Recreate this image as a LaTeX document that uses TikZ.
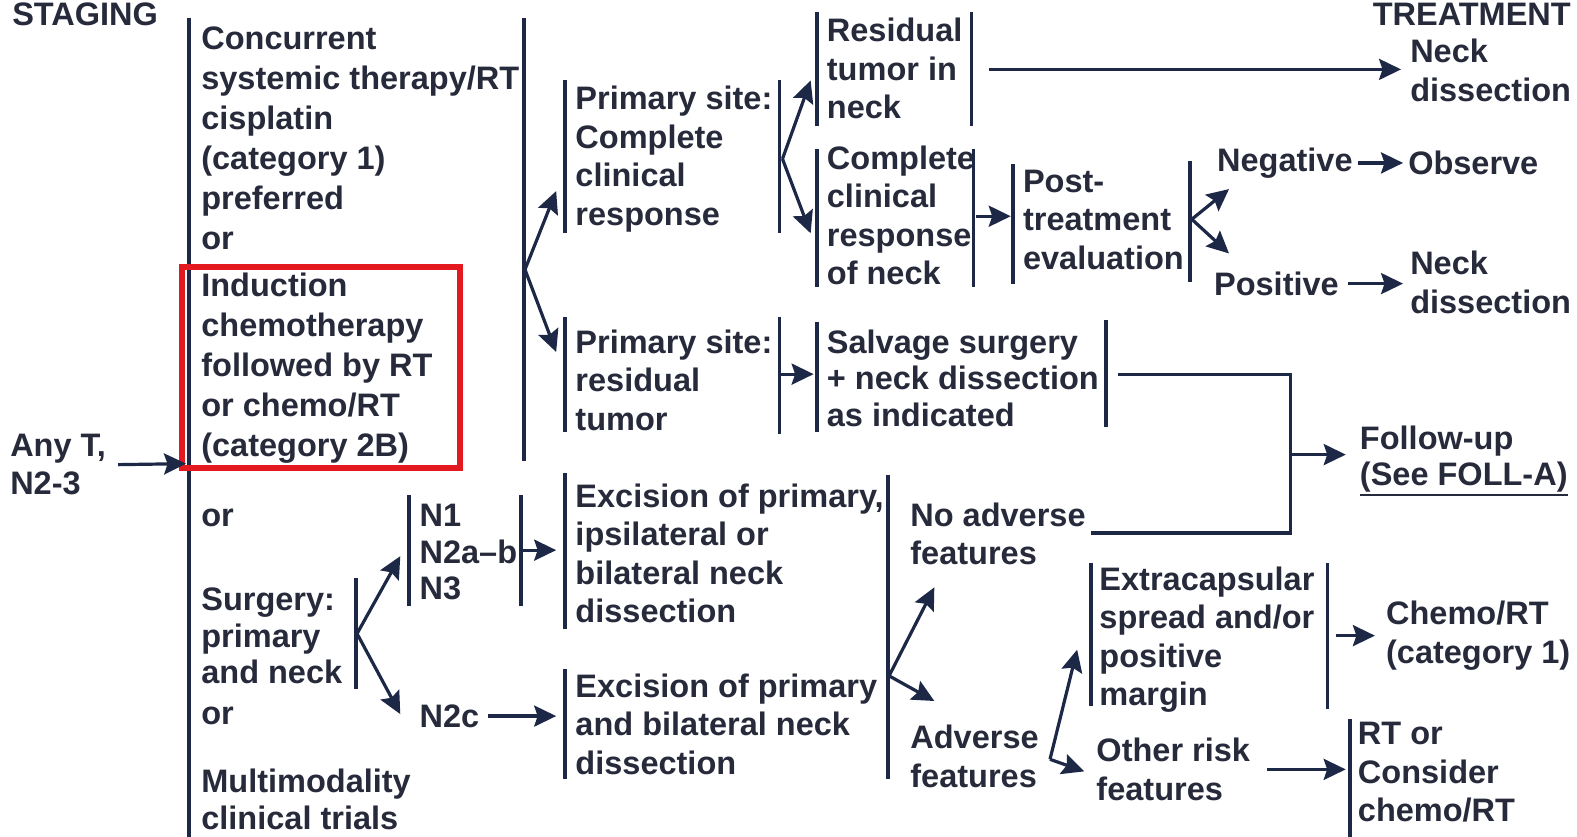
\documentclass[tikz,border=0pt]{standalone}
\usepackage{fontspec}
\setmainfont{Liberation Sans}
\usetikzlibrary{arrows.meta}
\definecolor{ink}{HTML}{262A3A}
\definecolor{navy}{HTML}{1C2846}
\definecolor{boxred}{HTML}{E3191F}
% thick underline for the cross-reference
\newcommand{\refline}[1]{\leavevmode\vtop{\hbox{#1}\kern1.5pt\hrule height 1.8pt}}
\begin{document}
\begin{tikzpicture}[x=1.0057pt,y=-1.0057pt,
  txt/.style={font=\bfseries\fontsize{32.5}{38.5}\selectfont, text=ink, inner sep=0pt, anchor=west, align=left},
  wide/.style={font=\bfseries\fontsize{32.5}{40}\selectfont},
  tight/.style={font=\bfseries\fontsize{32.5}{36.5}\selectfont},
  bar/.style={draw=navy, line width=3.8pt},
  arr/.style={draw=navy, line width=3.2pt, -{Stealth[length=22pt,width=21pt,inset=3.5pt]}},
  link/.style={draw=navy, line width=3.2pt},
  redbox/.style={draw=boxred, line width=6pt}]
\useasboundingbox (0,0) rectangle (1568,832);
\fill[white] (0,0) rectangle (1568,832);

% headings
\node[txt, anchor=base west] (staging) at (12,25) {STAGING};
\node[txt, anchor=base east] (treat) at (1562,25) {TREATMENT};

% staging column
\node[txt] (anyt) at (10,462) {Any T,\\N2-3};
\coordinate (stagein) at (185,461);
\draw[bar] (188,18) -- (188,832);
\node[txt, wide] (conc) at (200,137.5) {Concurrent\\systemic therapy/RT\\cisplatin\\(category 1)\\preferred\\or};
\node[txt, wide] (induc) at (200,366) {Induction\\chemotherapy\\followed by RT\\or chemo/RT\\(category 2B)};
\draw[redbox] (181,265) rectangle (457,465);
\node[txt] (ortwo) at (200,515) {or};
\node[txt, tight] (surg) at (200,632.5) {Surgery:\\primary\\and neck};
\node[txt] (orthree) at (200,712) {or};
\node[txt, tight] (multi) at (200,795) {Multimodality\\clinical trials};
\draw[arr] ([xshift=12pt]anyt.east) -- (stagein);

% primary treatment response
\draw[bar] (521,18) -- (521,458);
\coordinate (vone) at (522,268);
\coordinate (pcrin) at (553,190);
\coordinate (prtin) at (553,350);
\draw[arr] (vone) -- (pcrin);
\draw[arr] (vone) -- (prtin);

\draw[bar] (562,80) -- (562,232);
\node[txt] (pcr) at (572,158) {Primary site:\\Complete\\clinical\\response};
\draw[bar] (775,80) -- (775,232);
\coordinate (vtwo) at (778,158);
\coordinate (residin) at (806,80);
\coordinate (ccrnin) at (806,232);
\draw[arr] (vtwo) -- (residin);
\draw[arr] (vtwo) -- (ccrnin);

\draw[bar] (812,12) -- (812,125);
\node[txt] (resid) at (822,68) {Residual\\tumor in\\neck};
\draw[bar] (966,12) -- (966,125);
\coordinate (residout) at (983,69);
\node[txt] (ndone) at (1402,70) {Neck\\dissection};
\draw[arr] (residout) -- ([xshift=-9pt]ndone.west |- residout);

\draw[bar] (812,148) -- (812,285);
\node[txt] (ccrn) at (822,214) {Complete\\clinical\\response\\of neck};
\draw[bar] (968,148) -- (968,285);
\coordinate (ccrnout) at (970,215);
\coordinate (postin) at (1005,215);
\draw[arr] (ccrnout) -- (postin);
\draw[bar] (1007,163) -- (1007,282);
\node[txt] (post) at (1017,218.5) {Post-\\treatment\\evaluation};
\draw[bar] (1183,160) -- (1183,280);
\coordinate (vthree) at (1185,218);
\coordinate (negin) at (1222,188);
\coordinate (posin) at (1222,252);
\draw[arr] (vthree) -- (negin);
\draw[arr] (vthree) -- (posin);
\node[txt] (neg) at (1210,162) {Negative};
\node[txt] (obs) at (1400,162) {Observe};
\draw[arr] ([xshift=5pt]neg.east) -- ([xshift=-5pt]obs.west);
\node[txt] (pos) at (1207,282) {Positive};
\node[txt] (ndtwo) at (1402,281) {Neck\\dissection};
\draw[arr] ([xshift=9pt]pos.east) -- ([xshift=-7pt]ndtwo.west |- pos.east);

\draw[bar] (562,315) -- (562,430);
\node[txt] (prt) at (572,378) {Primary site:\\residual\\tumor};
\draw[bar] (775,315) -- (775,432);
\coordinate (prtout) at (777,372);
\coordinate (salvin) at (809,372);
\draw[arr] (prtout) -- (salvin);
\draw[bar] (812,320) -- (812,430);
\node[txt, tight] (salv) at (822,376) {Salvage surgery\\+ neck dissection\\as indicated};
\draw[bar] (1100,318) -- (1100,425);

% follow-up junction
\coordinate (salvout) at (1112,372);
\coordinate (joint) at (1283,452);
\node[txt, tight] (follow) at (1352,458) {Follow-up\\\refline{(See FOLL-A)}};
\node[txt] (noadv) at (905,531) {No adverse\\features};
\coordinate (noadvout) at (1085,530);
\draw[link] (salvout) -- (salvout -| joint) -- (noadvout -| joint) -- (noadvout);
\draw[arr] (joint) -- ([xshift=-14pt]follow.west |- joint);

% surgery branch
\draw[bar] (354,575) -- (354,685);
\coordinate (vfour) at (355,630);
\coordinate (nsetin) at (398,553);
\coordinate (ntwocin) at (398,710);
\draw[arr] (vfour) -- (nsetin);
\draw[arr] (vfour) -- (ntwocin);
\draw[bar] (407,492) -- (407,603);
\node[txt, tight] (nset) at (417,549) {N1\\N2a–b\\N3};
\draw[bar] (518,492) -- (518,603);
\coordinate (nsetout) at (520,547);
\coordinate (excone) at (553,547);
\draw[arr] (nsetout) -- (excone);
\node[txt] (ntwoc) at (417,712) {N2c};
\coordinate (exctwo) at (553,712);
\draw[arr] ([xshift=9pt]ntwoc.east) -- (exctwo);

\draw[bar] (562,470) -- (562,625);
\node[txt] (excA) at (572,550) {Excision of primary,\\ipsilateral or\\bilateral neck\\dissection};
\draw[bar] (562,665) -- (562,775);
\node[txt] (excB) at (572,720) {Excision of primary\\and bilateral neck\\dissection};
\draw[bar] (883,472) -- (883,775);
\coordinate (vfive) at (884,672);
\coordinate (noadvin) at (929,584);
\coordinate (advin) at (929,697);
\draw[arr] (vfive) -- (noadvin);
\draw[arr] (vfive) -- (advin);

\node[txt] (adv) at (905,752) {Adverse\\features};
\coordinate (vsix) at (1044,755);
\coordinate (extrain) at (1071,646);
\coordinate (otherin) at (1078,767);
\draw[arr] (vsix) -- (extrain);
\draw[arr] (vsix) -- (otherin);

\draw[bar] (1085,560) -- (1085,702);
\node[txt] (extra) at (1093,636) {Extracapsular\\spread and/or\\positive\\margin};
\draw[bar] (1320,560) -- (1320,705);
\node[txt] (chemo) at (1378,632) {Chemo/RT\\(category 1)};
\coordinate (extraout) at (1328,632);
\draw[arr] (extraout) -- ([xshift=-11pt]chemo.west |- extraout);

\node[txt] (other) at (1090,765) {Other risk\\features};
\draw[bar] (1342,715) -- (1342,832);
\node[txt] (rtor) at (1350,768) {RT or\\Consider\\chemo/RT};
\coordinate (rtorin) at (1338,765);
\draw[arr] ([xshift=17pt]other.east |- rtorin) -- (rtorin);
\end{tikzpicture}
\end{document}
